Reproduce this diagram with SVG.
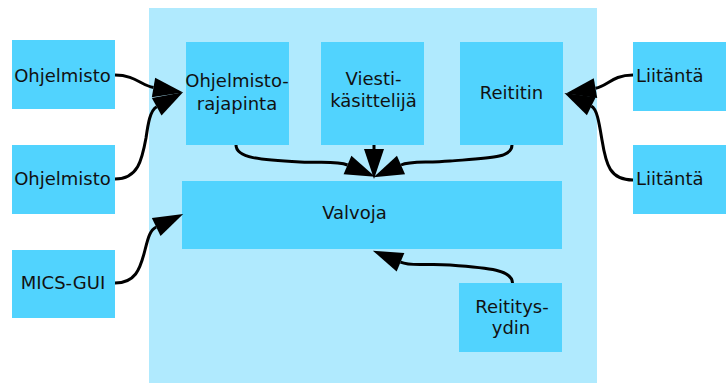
<svg xmlns="http://www.w3.org/2000/svg" width="726" height="383" viewBox="0 0 726 383">
<defs>
<style>
.container{fill:#b0eafe;}
.node{fill:#51d3fe;}
.lbl{font-family:"DejaVu Sans","Liberation Sans",sans-serif;font-size:18px;fill:#111;text-anchor:middle;}
.conn{fill:none;stroke:#000;stroke-width:3;marker-end:url(#ah);}
</style>
<marker id="ah" markerUnits="userSpaceOnUse" markerWidth="30" markerHeight="20" refX="0" refY="10" orient="auto" overflow="visible">
<path d="M0,0 L30,10 L0,20 z" fill="#000"/>
</marker>
</defs>
<rect width="726" height="383" fill="#fff"/>
<g id="container"><rect class="container" x="149" y="8" width="448" height="375"/></g>
<g id="ohjelmisto1"><rect class="node" x="12" y="40" width="103" height="69"/><text class="lbl" x="62.5" y="82">Ohjelmisto</text></g>
<g id="ohjelmisto2"><rect class="node" x="12" y="145" width="103" height="69"/><text class="lbl" x="62.5" y="185">Ohjelmisto</text></g>
<g id="micsgui"><rect class="node" x="12" y="250" width="103" height="68"/><text class="lbl" x="63" y="289">MICS-GUI</text></g>
<g id="rajapinta"><rect class="node" x="186" y="42" width="103" height="103"/><text class="lbl" x="237" y="87">Ohjelmisto-</text><text class="lbl" x="237" y="110">rajapinta</text></g>
<g id="viestikasittelija"><rect class="node" x="321" y="42" width="103" height="103"/><text class="lbl" x="373.5" y="85">Viesti-</text><text class="lbl" x="373.5" y="107">käsittelijä</text></g>
<g id="reititin"><rect class="node" x="460" y="42" width="103" height="103"/><text class="lbl" x="511.5" y="99">Reititin</text></g>
<g id="liitanta1"><rect class="node" x="633" y="42" width="103" height="69"/><text class="lbl" x="636" y="82" style="text-anchor:start">Liitäntä</text></g>
<g id="liitanta2"><rect class="node" x="633" y="145" width="103" height="69"/><text class="lbl" x="636" y="185" style="text-anchor:start">Liitäntä</text></g>
<g id="valvoja"><rect class="node" x="182" y="181" width="380" height="68"/><text class="lbl" x="354.5" y="219">Valvoja</text></g>
<g id="reititysydin"><rect class="node" x="459" y="283" width="103" height="69"/><text class="lbl" x="512" y="313">Reititys-</text><text class="lbl" x="511" y="334">ydin</text></g>
<g id="connectors">
<path class="conn" d="M115,75 C135,75 141,85.4 153.5,87.5"/>
<path class="conn" d="M115,179 C138,179 142,160 146,138 C148,124 150,110.4 156.7,106.7"/>
<path class="conn" d="M236,145 C236,158 260,160 300,162 C325,163 338,161 347.5,165"/>
<path class="conn" d="M374,145 L374,149"/>
<path class="conn" d="M512,145 C512,158 490,158 450,161 C425,163 410,161 401,165"/>
<path class="conn" d="M633,75 C612,75 608,86 595.5,88.2"/>
<path class="conn" d="M633,180 C610,180 606,165 602,140 C599,122 597,109 591.3,106.2"/>
<path class="conn" d="M115,283 C135,283 140,270 145,250 C148,238 150,230 156.2,227"/>
<path class="conn" d="M512.5,283 C512,270 490,268 450,265 C425,263 412,267 400.5,262.2"/>
</g>
</svg>
